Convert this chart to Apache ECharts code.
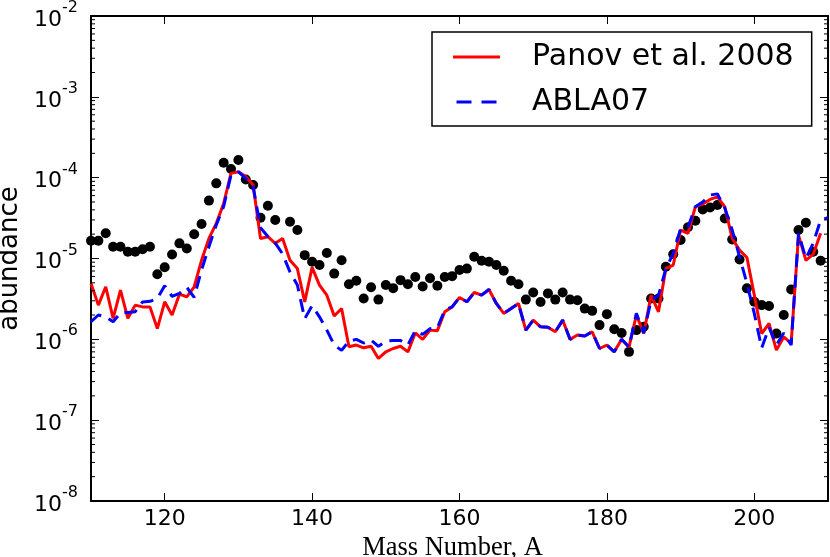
<!DOCTYPE html>
<html>
<head>
    <meta charset="UTF-8">
    <title>abundance vs mass number</title>
    <script src="https://cdn.jsdelivr.net/npm/echarts@6.0.0/dist/echarts.min.js"></script>
    <style>
        html, body { margin: 0; padding: 0; background: #fff; }
    </style>
</head>
<body>
    <div id="main" style="width: 830px;height:557px;"></div>
    <script type="text/javascript">
        // 实验点 (黑点), A=136 无数据
        var dotMass = [110, 111, 112, 113, 114, 115, 116, 117, 118, 119,
            120, 121, 122, 123, 124, 125, 126, 127, 128, 129,
            130, 131, 132, 133, 134, 135, 137, 138, 139,
            140, 141, 142, 143, 144, 145, 146, 147, 148, 149,
            150, 151, 152, 153, 154, 155, 156, 157, 158, 159,
            160, 161, 162, 163, 164, 165, 166, 167, 168, 169,
            170, 171, 172, 173, 174, 175, 176, 177, 178, 179,
            180, 181, 182, 183, 184, 185, 186, 187, 188, 189,
            190, 191, 192, 193, 194, 195, 196, 197, 198, 199,
            200, 201, 202, 203, 204, 205, 206, 207, 208, 209];
        var dotAbund = [1.66e-5, 1.66e-5, 2.05e-5, 1.40e-5, 1.40e-5, 1.21e-5, 1.21e-5, 1.30e-5, 1.40e-5, 6.4e-6,
            7.8e-6, 1.12e-5, 1.54e-5, 1.33e-5, 2.0e-5, 2.67e-5, 5.2e-5, 8.5e-5, 1.53e-4, 1.28e-4,
            1.65e-4, 9.5e-5, 8.1e-5, 3.2e-5, 4.5e-5, 3.0e-5, 2.85e-5, 2.25e-5, 1.10e-5,
            9.1e-6, 8.3e-6, 1.17e-5, 6.5e-6, 9.5e-6, 4.8e-6, 5.3e-6, 3.2e-6, 4.4e-6, 3.1e-6,
            4.7e-6, 4.3e-6, 5.4e-6, 4.8e-6, 5.9e-6, 4.5e-6, 5.7e-6, 4.6e-6, 5.9e-6, 6.05e-6,
            7.2e-6, 7.5e-6, 1.05e-5, 9.4e-6, 9.1e-6, 8.3e-6, 7.05e-6, 5.3e-6, 4.8e-6, 3.1e-6,
            3.8e-6, 2.9e-6, 3.7e-6, 3.1e-6, 3.8e-6, 3.1e-6, 3.05e-6, 2.4e-6, 2.25e-6, 1.5e-6,
            2.05e-6, 1.33e-6, 1.2e-6, 7.0e-7, 1.3e-6, 1.43e-6, 3.2e-6, 3.2e-6, 7.9e-6, 1.13e-5,
            1.69e-5, 2.43e-5, 2.93e-5, 4.05e-5, 4.28e-5, 4.58e-5, 3.13e-5, 1.72e-5, 9.7e-6, 4.27e-6,
            2.91e-6, 2.65e-6, 2.58e-6, 1.18e-6, 2.0e-6, 4.14e-6, 2.25e-5, 2.77e-5, 1.21e-5, 9.4e-6];

        // Panov et al. 2008 (红色实线)
        var panovMass = [110, 111, 112, 113, 114, 115, 116, 117, 118, 119,
            120, 121, 122, 123, 124, 125, 126, 127, 128, 129,
            130, 131, 132, 133, 134, 135, 136, 137, 138, 139,
            140, 141, 142, 143, 144, 145, 146, 147, 148, 149,
            150, 151, 152, 153, 154, 155, 156, 157, 158, 159,
            160, 161, 162, 163, 164, 165, 166, 167, 168, 169,
            170, 171, 172, 173, 174, 175, 176, 177, 178, 179,
            180, 181, 182, 183, 184, 185, 186, 187, 188, 189,
            190, 191, 192, 193, 194, 195, 196, 197, 198, 199,
            200, 201, 202, 203, 204, 205, 206, 207, 208, 209];
        var panovAbund = [4.9e-6, 2.65e-6, 4.47e-6, 1.82e-6, 4.07e-6, 1.82e-6, 2.65e-6, 2.52e-6, 2.52e-6, 1.36e-6,
            2.91e-6, 2.0e-6, 3.62e-6, 3.36e-6, 4.47e-6, 9.5e-6, 1.77e-5, 2.72e-5, 4.8e-5, 1.13e-4,
            1.18e-4, 1.03e-4, 8.1e-5, 1.77e-5, 1.86e-5, 1.54e-5, 1.77e-5, 9.5e-6, 7.5e-6, 2.91e-6,
            7.76e-6, 4.69e-6, 3.52e-6, 1.94e-6, 2.41e-6, 8.1e-7, 8.5e-7, 7.85e-7, 8.2e-7, 5.8e-7,
            7.0e-7, 7.7e-7, 8.2e-7, 7.0e-7, 1.2e-6, 1.0e-6, 1.3e-6, 1.28e-6, 2.19e-6, 2.52e-6,
            3.3e-6, 2.91e-6, 3.8e-6, 3.52e-6, 4.14e-6, 2.78e-6, 2.09e-6, 2.41e-6, 2.78e-6, 1.3e-6,
            1.73e-6, 1.43e-6, 1.41e-6, 1.24e-6, 1.73e-6, 1.0e-6, 1.13e-6, 1.1e-6, 1.24e-6, 7.7e-7,
            8.5e-7, 7.0e-7, 1.0e-6, 8.0e-7, 2.0e-6, 1.18e-6, 3.52e-6, 2.19e-6, 7.5e-6, 8.3e-6,
            2.25e-5, 2.05e-5, 4.36e-5, 4.71e-5, 5.38e-5, 5.8e-5, 4.36e-5, 1.77e-5, 1.27e-5, 1.03e-5,
            3.52e-6, 1.18e-6, 1.57e-6, 7.35e-7, 1.07e-6, 8.9e-7, 1.95e-5, 9.5e-6, 1.13e-5, 2.05e-5];

        // ABLA07 (蓝色虚线)
        var ablaMass = [110, 111, 112, 113, 114, 115, 116, 117, 118, 119,
            120, 121, 122, 123, 124, 125, 126, 127, 128, 129,
            130, 131, 132, 133, 134, 135, 136, 137, 138, 139,
            140, 141, 142, 143, 144, 145, 146, 147, 148, 149,
            150, 151, 152, 153, 154, 155, 156, 157, 158, 159,
            160, 161, 162, 163, 164, 165, 166, 167, 168, 169,
            170, 171, 172, 173, 174, 175, 176, 177, 178, 179,
            180, 181, 182, 183, 184, 185, 186, 187, 188, 189,
            190, 191, 192, 193, 194, 195, 196, 197, 198, 199,
            200, 201, 202, 203, 204, 205, 206, 207, 208, 209, 210];
        var ablaAbund = [1.65e-6, 2.0e-6, 1.9e-6, 1.65e-6, 2.13e-6, 2.15e-6, 2.2e-6, 2.9e-6, 2.95e-6, 3.2e-6,
            4.6e-6, 3.4e-6, 3.7e-6, 4.4e-6, 3.3e-6, 7.2e-6, 1.4e-5, 2.6e-5, 4.4e-5, 1.08e-4,
            1.18e-4, 9.8e-5, 7.7e-5, 2.4e-5, 1.87e-5, 1.55e-5, 1.14e-5, 6.8e-6, 4.7e-6, 1.8e-6,
            2.6e-6, 1.9e-6, 1.3e-6, 8.5e-7, 7.3e-7, 9.5e-7, 1.0e-6, 9.0e-7, 9.8e-7, 8.2e-7,
            9.5e-7, 9.7e-7, 9.7e-7, 8.5e-7, 1.28e-6, 1.15e-6, 1.35e-6, 1.4e-6, 2.3e-6, 2.52e-6,
            3.3e-6, 2.91e-6, 3.8e-6, 3.52e-6, 4.14e-6, 2.78e-6, 2.09e-6, 2.41e-6, 2.78e-6, 1.3e-6,
            1.73e-6, 1.43e-6, 1.41e-6, 1.24e-6, 1.73e-6, 1.0e-6, 1.13e-6, 1.1e-6, 1.24e-6, 7.7e-7,
            8.5e-7, 7.0e-7, 1.0e-6, 8.0e-7, 2.1e-6, 1.2e-6, 3.05e-6, 3.5e-6, 7.5e-6, 1.15e-5,
            2.35e-5, 2.45e-5, 4.36e-5, 5.0e-5, 6.1e-5, 6.3e-5, 4.2e-5, 2.25e-5, 1.05e-5, 4.9e-6,
            2.09e-6, 7.8e-7, 1.4e-6, 8.5e-7, 1.2e-6, 8.5e-7, 2.05e-5, 1.0e-5, 1.55e-5, 3.0e-5, 3.2e-5];

        // 对数轴的次刻度 (2..9 x 10^n)
        var minorTicks = [];
        for (var n = -8; n < -2; n++) {
            for (var k = 2; k <= 9; k++) {
                minorTicks.push(k * Math.pow(10, n));
            }
        }

        function pairs(xs, ys) {
            return xs.map(function (x, i) { return [x, ys[i]]; });
        }

        var myChart = echarts.init(document.getElementById('main'));

        var tickFont = 'DejaVu Sans';
        var axisCommon = {
            axisLine: { show: true, onZero: false, lineStyle: { color: '#000', width: 2 } },
            axisTick: { show: true, inside: true, length: 8, lineStyle: { color: '#000', width: 1 } },
            splitLine: { show: false }
        };

        var option = {
            animation: false,
            backgroundColor: '#fff',
            grid: { left: 91, right: 2, top: 16, bottom: 56, outerBoundsMode: 'none' },
            legend: {
                left: 432,
                top: 32,
                orient: 'vertical',
                data: [
                    { name: 'Panov et al. 2008', icon: 'path://M0,0h47v3h-47z' },
                    { name: 'ABLA07', icon: 'path://M0,0h15v3h-15z M25,0h15v3h-15z' }
                ],
                itemWidth: 47,
                itemHeight: 3,
                itemGap: 15,
                padding: [10, 18, 9, 21],
                borderColor: '#000',
                borderWidth: 1.5,
                backgroundColor: '#fff',
                textStyle: { fontFamily: tickFont, fontSize: 30, lineHeight: 30, color: '#000', padding: [0, 0, 0, 27] }
            },
            xAxis: [
                Object.assign({
                    type: 'value',
                    min: 110,
                    max: 210,
                    name: 'Mass Number, A',
                    nameLocation: 'middle',
                    nameGap: 25,
                    nameTextStyle: { fontFamily: 'Liberation Serif', fontSize: 26.5, color: '#000', padding: [0, 14, 0, 0] },
                    axisLabel: {
                        fontFamily: tickFont, fontSize: 22, color: '#000', margin: 7,
                        showMinLabel: false, showMaxLabel: false
                    }
                }, axisCommon),
                Object.assign({
                    type: 'value',
                    min: 110,
                    max: 210,
                    position: 'top',
                    axisLabel: { show: false }
                }, axisCommon)
            ],
            yAxis: [
                Object.assign({
                    type: 'log',
                    logBase: 10,
                    min: 1e-8,
                    max: 1e-2,
                    interval: 1,
                    name: 'abundance',
                    nameLocation: 'middle',
                    nameGap: 65,
                    nameTextStyle: { fontFamily: tickFont, fontSize: 26, color: '#000' },
                    axisLabel: {
                        margin: 13,
                        formatter: function (v) {
                            var e = Math.round(Math.log10(v));
                            return '{b|10}{s|' + e + '}';
                        },
                        rich: {
                            b: { fontFamily: tickFont, fontSize: 22, lineHeight: 22, color: '#000', padding: [8, 0, 0, 0] },
                            s: { fontFamily: tickFont, fontSize: 16, lineHeight: 16, color: '#000', padding: [0, 0, 16, 0] }
                        }
                    }
                }, axisCommon),
                Object.assign({
                    type: 'log',
                    logBase: 10,
                    min: 1e-8,
                    max: 1e-2,
                    interval: 1,
                    position: 'right',
                    axisLabel: { show: false }
                }, axisCommon)
            ],
            series: [
                {
                    name: 'data',
                    type: 'scatter',
                    data: pairs(dotMass, dotAbund),
                    symbol: 'circle',
                    symbolSize: 10,
                    itemStyle: { color: '#000', opacity: 1 },
                    z: 2
                },
                {
                    name: 'Panov et al. 2008',
                    type: 'line',
                    data: pairs(panovMass, panovAbund),
                    symbol: 'none',
                    lineStyle: { color: '#ff0000', width: 3 },
                    itemStyle: { color: '#ff0000' },
                    z: 3
                },
                {
                    name: 'ABLA07',
                    type: 'line',
                    data: pairs(ablaMass, ablaAbund),
                    symbol: 'none',
                    lineStyle: { color: '#0000ff', width: 3, type: [13, 8] },
                    itemStyle: { color: '#0000ff' },
                    z: 4
                },
                {
                    name: 'minor',
                    type: 'custom',
                    silent: true,
                    clip: false,
                    z: 5,
                    data: minorTicks.map(function (v) { return [110, v]; }),
                    renderItem: function (params, api) {
                        var l = api.coord([110, api.value(1)]);
                        var r = api.coord([210, api.value(1)]);
                        var st = { stroke: '#000', lineWidth: 1 };
                        return {
                            type: 'group',
                            children: [
                                { type: 'line', shape: { x1: l[0], y1: l[1], x2: l[0] + 4, y2: l[1] }, style: st },
                                { type: 'line', shape: { x1: r[0] - 4, y1: r[1], x2: r[0], y2: r[1] }, style: st }
                            ]
                        };
                    }
                }
            ]
        };

        myChart.setOption(option);
    </script>
</body>
</html>
